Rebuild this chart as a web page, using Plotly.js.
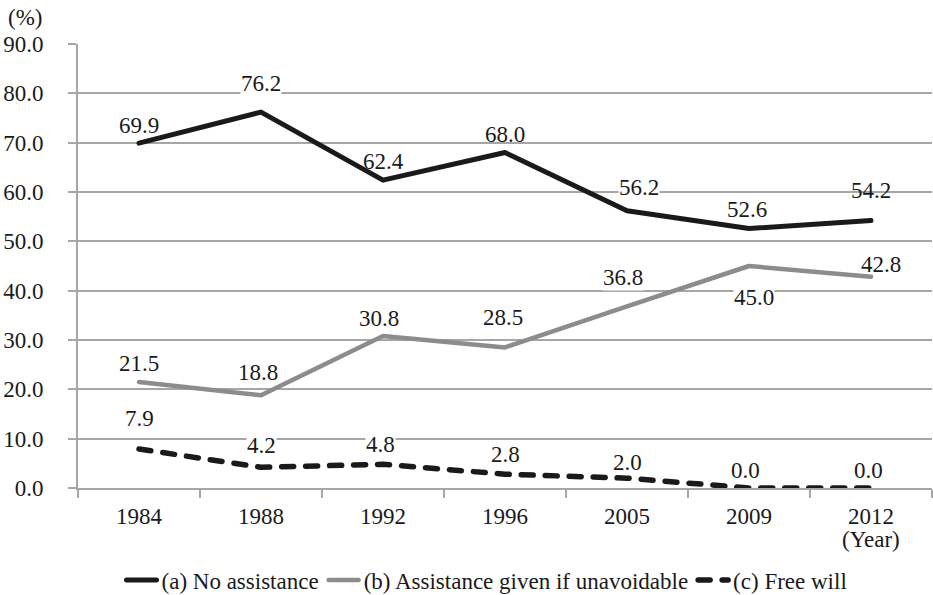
<!DOCTYPE html>
<html>
<head>
<meta charset="utf-8">
<script src="https://cdn.plot.ly/plotly-3.0.1.min.js"></script>
<style>
html,body{margin:0;padding:0;background:#fff;}
#chart{width:933px;height:595px;}
.js-line{stroke-linecap:round !important;stroke-linejoin:round !important;}
</style>
</head>
<body>
<div id="chart"></div>
<script>
const years = ["1984", "1988", "1992", "1996", "2005", "2009", "2012"];
const noAssistance = [69.9, 76.2, 62.4, 68.0, 56.2, 52.6, 54.2];
const assistanceIfUnavoidable = [21.5, 18.8, 30.8, 28.5, 36.8, 45.0, 42.8];
const freeWill = [7.9, 4.2, 4.8, 2.8, 2.0, 0.0, 0.0];
const seriesNames = ["(a) No assistance", "(b) Assistance given if unavoidable", "(c) Free will"];
const yTicks = [0, 10, 20, 30, 40, 50, 60, 70, 80, 90];

// label pixel offsets and backgrounds (styling only)
const labelShiftA = [18, 29, 19, 18, 23, 19, 30];
const labelShiftB = [18, 23, 18, 30, 29, -31, 12];
const labelShiftC = [31, 22, 20, 20, 16, 18, 18];
const labelXShiftA = [0, 0, 0, 0, 12, -2, 0];
const labelXShiftB = [0, -3, -4, -2, -4, 5, 10];
const labelXShiftC = [0, 0, -3, 0, 0, -4, -3];
const W = "#ffffff", N = "rgba(0,0,0,0)";
const labelBgA = [N, W, N, N, W, N, N];
const labelBgB = [N, N, N, N, W, W, N];
const labelBgC = [N, W, W, N, N, N, N];

const FONT = "Liberation Serif";
const FS = 23;
const GRID = "#a6a6a6";
const TXT = "#1a1a1a";

const traces = [
  {x: years, y: noAssistance, name: seriesNames[0], type: "scatter", mode: "lines",
   line: {color: "#1a1a1a", width: 5}},
  {x: years, y: assistanceIfUnavoidable, name: seriesNames[1], type: "scatter", mode: "lines",
   line: {color: "#8c8c8c", width: 4.5}},
  {x: years, y: freeWill, name: seriesNames[2], type: "scatter", mode: "lines",
   line: {color: "#1a1a1a", width: 5.5, dash: "12px,12px"}}
];

const annotations = [];
function addLabels(vals, shifts, xshifts, bgs) {
  vals.forEach((v, i) => {
    annotations.push({x: i, y: v, xref: "x", yref: "y", text: v.toFixed(1),
      showarrow: false, yshift: shifts[i], xshift: xshifts[i],
      bgcolor: bgs[i], borderpad: 0,
      font: {family: FONT, size: FS, color: TXT}});
  });
}
addLabels(noAssistance, labelShiftA, labelXShiftA, labelBgA);
addLabels(assistanceIfUnavoidable, labelShiftB, labelXShiftB, labelBgB);
addLabels(freeWill, labelShiftC, labelXShiftC, labelBgC);
annotations.push({xref: "paper", yref: "paper", x: 0, y: 1, xanchor: "right", yanchor: "bottom",
  xshift: -34, yshift: 12, text: "(%)", showarrow: false, font: {family: FONT, size: FS, color: TXT}});
annotations.push({xref: "x", yref: "paper", x: years.length - 1, y: 0, yanchor: "top",
  yshift: -37, text: "(Year)", showarrow: false, font: {family: FONT, size: FS, color: TXT}});

const layout = {
  width: 933, height: 595,
  margin: {l: 78, r: 1, t: 44, b: 107},
  paper_bgcolor: "#ffffff", plot_bgcolor: "#ffffff",
  font: {family: FONT, size: FS, color: TXT},
  showlegend: true,
  legend: {orientation: "h", xref: "container", yref: "container", x: 0.522, xanchor: "center",
    y: 0.025, yanchor: "middle", font: {family: FONT, size: FS, color: TXT},
    tracegroupgap: 0},
  xaxis: {type: "category", tickson: "boundaries", ticks: "outside", ticklen: 8, tickcolor: GRID,
    tickwidth: 2, showline: true, linecolor: GRID, linewidth: 2, showgrid: false,
    ticklabelstandoff: 6,
    tickfont: {family: FONT, size: FS, color: TXT}, range: [-0.5, 6.5], fixedrange: true},
  yaxis: {range: [0, 90], tickvals: yTicks, tickformat: ".1f", ticks: "outside", ticklen: 8,
    tickcolor: GRID, tickwidth: 2, showline: true, linecolor: GRID, linewidth: 2,
    showgrid: true, gridcolor: GRID, gridwidth: 2, zeroline: false,
    ticklabelstandoff: 20,
    tickfont: {family: FONT, size: FS, color: TXT}, fixedrange: true},
  annotations: annotations
};

Plotly.newPlot("chart", traces, layout, {displayModeBar: false, staticPlot: true});
</script>
</body>
</html>
